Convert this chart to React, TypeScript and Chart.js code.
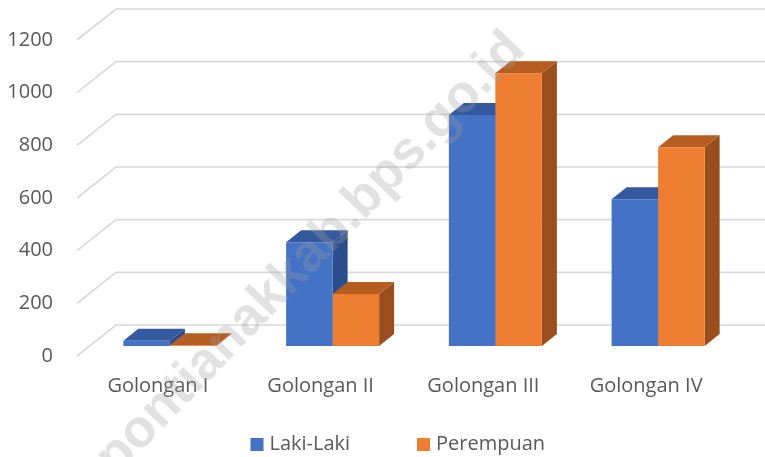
import React, { useEffect, useRef } from "react";
import { Chart, registerables } from "chart.js";

Chart.register(...registerables);

const categories = ["Golongan I", "Golongan II", "Golongan III", "Golongan IV"];
const seriesNames = ["Laki-Laki", "Perempuan"];
const lakiLaki = [20, 394, 877, 557];
const perempuan = [3, 197, 1036, 755];
const yMin = 0;
const yMax = 1200;
const yStep = 200;
const watermarkText = "pontianakkab.bps.go.id";

const FRONT_COLORS = ["#4472C4", "#ED7D31"];
const TOP_COLORS = ["#35599F", "#B65E22"];
const SIDE_COLORS = ["#2C4D8B", "#9A4E1D"];
const TEXT_COLOR = "#595959";
const GRID_COLOR = "#D9D9D9";
const FONT_FAMILY = "'Open Sans', sans-serif";
const DEPTH_X = 15;
const DEPTH_Y = 12;

const threeDPlugin = {
  id: "threeD",
  beforeDatasetsDraw(chart: any) {
    const ctx = chart.ctx;
    const yScale = chart.scales.y;
    const left = chart.chartArea.left;
    ctx.save();
    ctx.strokeStyle = GRID_COLOR;
    ctx.lineWidth = 1.6;
    yScale.ticks.forEach((t: any) => {
      const y = yScale.getPixelForValue(t.value);
      ctx.beginPath();
      ctx.moveTo(left - 11.5, y + 10);
      ctx.lineTo(left + 27.5, y - 21);
      ctx.lineTo(chart.width, y - 21);
      ctx.stroke();
    });
    const metas = chart.data.datasets.map((_: any, i: number) => chart.getDatasetMeta(i));
    const n = chart.data.labels.length;
    for (let i = 0; i < n; i++) {
      metas.forEach((meta: any, d: number) => {
        const el = meta.data[i];
        if (!el) return;
        const p = el.getProps(["x", "y", "base", "width"], true);
        const l = p.x - p.width / 2;
        const r = p.x + p.width / 2;
        const top = p.y;
        const base = p.base;
        ctx.fillStyle = SIDE_COLORS[d];
        ctx.beginPath();
        ctx.moveTo(r, top);
        ctx.lineTo(r + DEPTH_X, top - DEPTH_Y);
        ctx.lineTo(r + DEPTH_X, base - DEPTH_Y);
        ctx.lineTo(r, base);
        ctx.closePath();
        ctx.fill();
        ctx.fillStyle = TOP_COLORS[d];
        ctx.beginPath();
        ctx.moveTo(l, top);
        ctx.lineTo(l + DEPTH_X, top - DEPTH_Y);
        ctx.lineTo(r + DEPTH_X, top - DEPTH_Y);
        ctx.lineTo(r, top);
        ctx.closePath();
        ctx.fill();
      });
    }
    ctx.restore();
  },
  afterDraw(chart: any) {
    const ctx = chart.ctx;
    ctx.save();
    const legendY = 444.5;
    const boxX = [250.5, 417];
    ctx.font = `20px ${FONT_FAMILY}`;
    ctx.textBaseline = "middle";
    ctx.textAlign = "left";
    chart.data.datasets.forEach((ds: any, d: number) => {
      ctx.fillStyle = FRONT_COLORS[d];
      ctx.fillRect(boxX[d], legendY - 6.5, 13, 13);
      ctx.fillStyle = TEXT_COLOR;
      ctx.fillText(ds.label, boxX[d] + 19, legendY);
    });
    ctx.translate(311, 254);
    ctx.rotate((-46 * Math.PI) / 180);
    ctx.font = `bold 53px 'Liberation Sans', sans-serif`;
    ctx.fillStyle = "rgba(160,160,160,0.3)";
    ctx.textAlign = "center";
    ctx.textBaseline = "middle";
    ctx.fillText(watermarkText, 0, 0);
    ctx.restore();
  },
};

export default function App() {
  const canvasRef = useRef<HTMLCanvasElement | null>(null);

  useEffect(() => {
    document.body.style.margin = "0";
    const canvas = canvasRef.current;
    if (!canvas) return;
    const chart = new Chart(canvas, {
      type: "bar",
      data: {
        labels: categories,
        datasets: [
          {
            label: seriesNames[0],
            data: lakiLaki,
            backgroundColor: FRONT_COLORS[0],
            borderWidth: 0,
            categoryPercentage: 0.5714,
            barPercentage: 1,
          },
          {
            label: seriesNames[1],
            data: perempuan,
            backgroundColor: FRONT_COLORS[1],
            borderWidth: 0,
            categoryPercentage: 0.5714,
            barPercentage: 1,
          },
        ],
      },
      options: {
        responsive: false,
        animation: false,
        devicePixelRatio: 1,
        layout: { padding: { left: 0, right: 25.5, top: 30, bottom: 0 } },
        plugins: {
          legend: { display: false },
          tooltip: { enabled: false },
          title: { display: false },
        },
        scales: {
          x: {
            grid: { display: false, drawTicks: false },
            border: { display: false },
            ticks: {
              color: TEXT_COLOR,
              font: { family: FONT_FAMILY, size: 20 },
              padding: 28.7,
              labelOffset: -12,
              maxRotation: 0,
              autoSkip: false,
            },
            afterFit: (scale: any) => {
              scale.height = 111;
              scale.paddingLeft = 0;
              scale.paddingRight = 0;
            },
          },
          y: {
            min: yMin,
            max: yMax,
            grid: { display: false, drawTicks: false },
            border: { display: false },
            ticks: {
              stepSize: yStep,
              color: TEXT_COLOR,
              font: { family: FONT_FAMILY, size: 20 },
              padding: 35.5,
              labelOffset: 10,
              callback: (v: any) => String(v),
            },
            afterFit: (scale: any) => {
              scale.width = 88.5;
              scale.paddingTop = 0;
              scale.paddingBottom = 0;
            },
          },
        },
      },
      plugins: [threeDPlugin],
    });
    return () => chart.destroy();
  }, []);

  return (
    <div style={{ position: "absolute", left: 0, top: 0, width: 765, height: 457, background: "#fff" }}>
      <canvas ref={canvasRef} width={765} height={457} style={{ display: "block" }} />
    </div>
  );
}
